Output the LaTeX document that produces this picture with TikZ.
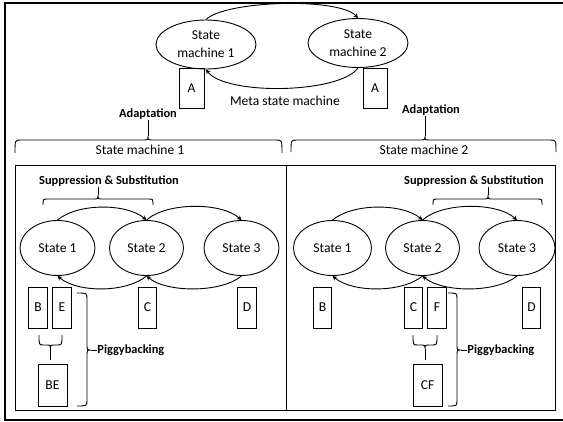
\documentclass[tikz,border=0pt]{standalone}
\usepackage{fontspec}
\setmainfont{Carlito}
\usetikzlibrary{shapes.geometric,arrows.meta}
\begin{document}
\begin{tikzpicture}[x=1pt,y=-1pt,line width=0.9pt,
  txt/.style={font=\fontsize{13.6}{17}\selectfont, inner sep=0pt},
  bld/.style={font=\fontsize{12.4}{15}\selectfont\bfseries, inner sep=0pt},
  metaell/.style={draw, ellipse, minimum width=100pt, minimum height=49pt,
    inner sep=0pt, align=center, font=\fontsize{13.6}{18}\selectfont},
  stateell/.style={draw, ellipse, minimum height=55pt, inner sep=0pt, txt},
  tag/.style={draw, rectangle, minimum width=18.5pt, minimum height=41pt, inner sep=0pt, txt},
  merged/.style={draw, rectangle, minimum width=29pt, minimum height=42pt, inner sep=0pt, txt},
  arr/.style={-{Stealth[length=4.5pt,width=4.5pt]}},
]
\useasboundingbox (0,0) rectangle (563,421);

% outer frame
\draw[line width=1.5pt] (5,3) rectangle (565,420);

% meta state machine
\node[metaell] (m1) at (206,44.5) {State\\machine 1};
\node[metaell] (m2) at (358,43) {State\\machine 2};
\draw[arr] (m1.north) .. controls +(19,-19) and +(-19,-21) .. (m2.north);
\draw[arr] (m2.south) .. controls +(-19,26) and +(19,26) .. (m1.south);
\node[draw, minimum width=25pt, minimum height=40pt, txt] (a1) at (191.5,88) {A};
\node[draw, minimum width=24pt, minimum height=40pt, txt] (a2) at (375,88) {A};
\node[txt] (meta) at (285,101) {Meta state machine};

% adaptation braces
\node[bld] (adL) at (148,114) {Adaptation};
\node[bld] (adR) at (431,110) {Adaptation};
\coordinate (cuspL) at (148,136);
\coordinate (cuspR) at (425,136);
\draw (15,153) .. controls (15,140) .. (21,140) -- (142,140) .. controls (148,140) .. (cuspL)
      .. controls (148,140) .. (154,140) -- (276,140) .. controls (282,140) .. (282,153);
\draw (291,152) .. controls (291,140) .. (297,140) -- (419,140) .. controls (425,140) .. (cuspR)
      .. controls (425,140) .. (431,140) -- (550,140) .. controls (556,140) .. (556,152);
\draw (cuspL) -- (cuspL |- adL.south);
\draw (cuspR) -- (cuspR |- adR.south);
\node[txt] (sm1) at (140,150) {State machine 1};
\node[txt] (sm2) at (424,150) {State machine 2};

% the two state machines
\draw (15,165) rectangle (286,410);
\draw (286,165) rectangle (555,410);

% suppression & substitution braces
\node[bld] (supL) at (109,181) {Suppression \& Substitution};
\node[bld] (supR) at (474,181) {Suppression \& Substitution};
\coordinate (cuspSL) at (98,195);
\coordinate (cuspSR) at (488,195);
\draw (43,205) .. controls (43,199) .. (48,199) -- (93,199) .. controls (98,199) .. (cuspSL)
      .. controls (98,199) .. (103,199) -- (148,199) .. controls (153,199) .. (153,205);
\draw (433,205) .. controls (433,199) .. (438,199) -- (483,199) .. controls (488,199) .. (cuspSR)
      .. controls (488,199) .. (493,199) -- (537,199) .. controls (542,199) .. (542,205);
\draw (cuspSL) -- (cuspSL |- supL.south);
\draw (cuspSR) -- (cuspSR |- supR.south);

% left machine states
\node[stateell, minimum width=75pt] (l1) at (57.5,248) {State 1};
\node[stateell, minimum width=74pt] (l2) at (146.5,248) {State 2};
\node[stateell, minimum width=75pt] (l3) at (241.5,248) {State 3};
\draw[arr] (l1.north) .. controls +(20,-17) and +(-20,-17) .. (l2.north);
\draw[arr] (l2.north) .. controls +(20,-18) and +(-20,-18) .. (l3.north);
\draw[arr] (l2.south) .. controls +(-20,17) and +(20,17) .. (l1.south);
\draw[arr] (l3.south) .. controls +(-20,17) and +(20,17) .. (l2.south);

% right machine states
\node[stateell, minimum width=78pt] (r1) at (332.5,248) {State 1};
\node[stateell, minimum width=74pt] (r2) at (422.5,248) {State 2};
\node[stateell, minimum width=76pt] (r3) at (517,248) {State 3};
\draw[arr] (r1.north) .. controls +(20,-17) and +(-20,-17) .. (r2.north);
\draw[arr] (r2.north) .. controls +(20,-18) and +(-20,-18) .. (r3.north);
\draw[arr] (r2.south) .. controls +(-20,17) and +(20,17) .. (r1.south);
\draw[arr] (r3.south) .. controls +(-20,17) and +(20,17) .. (r2.south);

% left messages
\node[tag] (lB) at (38,307.5) {B};
\node[tag] (lE) at (62,307.5) {E};
\node[tag] (lC) at (147.5,307.5) {C};
\node[tag] (lD) at (247,307.5) {D};
\node[merged] (lBE) at (52.5,385) {BE};
\coordinate (cuspBE) at (50.5,349);
\draw (39,335) .. controls (39,345) .. (44,345) -- (45.5,345) .. controls (50.5,345) .. (cuspBE)
      .. controls (50.5,345) .. (55.5,345) -- (57,345) .. controls (62,345) .. (62,335);
\draw (cuspBE) -- ++(0,11);
\coordinate (cuspPL) at (91,350);
\draw (77,293) .. controls (87,293) .. (87,299) -- (87,344) .. controls (87,350) .. (cuspPL)
      .. controls (87,350) .. (87,356) -- (87,400) .. controls (87,406) .. (77,406);
\node[bld, anchor=west] (pigL) at (97,350) {Piggybacking};
\draw (cuspPL) -- (pigL.west);

% right messages
\node[tag] (rB) at (322.5,307.5) {B};
\node[tag] (rC) at (413.5,307.5) {C};
\node[tag] (rF) at (437,307.5) {F};
\node[tag] (rD) at (531.5,307.5) {D};
\node[merged] (rCF) at (427.5,385) {CF};
\coordinate (cuspCF) at (425,349);
\draw (413,335) .. controls (413,345) .. (418,345) -- (420,345) .. controls (425,345) .. (cuspCF)
      .. controls (425,345) .. (430,345) -- (432,345) .. controls (437,345) .. (437,335);
\draw (cuspCF) -- ++(0,11);
\coordinate (cuspPR) at (461,350);
\draw (448,293) .. controls (457,293) .. (457,299) -- (457,344) .. controls (457,350) .. (cuspPR)
      .. controls (457,350) .. (457,356) -- (457,400) .. controls (457,406) .. (448,406);
\node[bld, anchor=west] (pigR) at (467,350) {Piggybacking};
\draw (cuspPR) -- (pigR.west);
\end{tikzpicture}
\end{document}
